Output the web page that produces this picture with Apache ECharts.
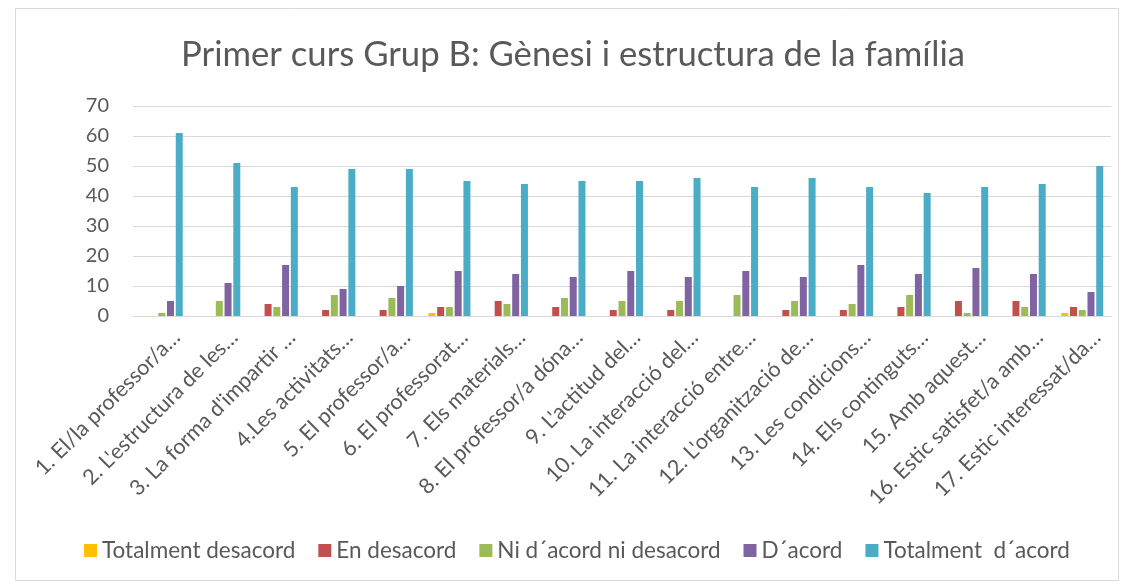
<!DOCTYPE html>
<html>
<head>
<meta charset="utf-8">
<script src="https://cdn.jsdelivr.net/npm/echarts@6/dist/echarts.min.js"></script>
<style>
  html, body { margin: 0; padding: 0; background: #fff; }
  #chart { width: 1132px; height: 584px; }
</style>
</head>
<body>
<div id="chart"></div>
<script>
// chart data
var categories = [
  "1. El/la professor/a…", "2. L'estructura de les…", "3. La forma d'impartir …",
  "4.Les activitats…", "5. El professor/a…", "6. El professorat…",
  "7. Els materials…", "8. El professor/a dóna…", "9. L'actitud del…",
  "10. La interacció del…", "11. La interacció entre…", "12. L'organització de…",
  "13. Les condicions…", "14. Els continguts…", "15. Amb aquest…",
  "16. Estic satisfet/a amb…", "17. Estic interessat/da…"
];
var totalDesacord = [0, 0, 0, 0, 0, 1, 0, 0, 0, 0, 0, 0, 0, 0, 0, 0, 1];
var enDesacord    = [0, 0, 4, 2, 2, 3, 5, 3, 2, 2, 0, 2, 2, 3, 5, 5, 3];
var niAcord       = [1, 5, 3, 7, 6, 3, 4, 6, 5, 5, 7, 5, 4, 7, 1, 3, 2];
var dAcord        = [5, 11, 17, 9, 10, 15, 14, 13, 15, 13, 15, 13, 17, 14, 16, 14, 8];
var totalAcord    = [61, 51, 43, 49, 49, 45, 44, 45, 45, 46, 43, 46, 43, 41, 43, 44, 50];
var yTicks = [0, 10, 20, 30, 40, 50, 60, 70];

var textColor = '#595959';
var font = 'Lato';

var chart = echarts.init(document.getElementById('chart'));

function bar(name, data, color) {
  return {
    name: name,
    type: 'bar',
    data: data,
    barWidth: 7,
    barGap: '25%',
    itemStyle: { color: color },
    emphasis: { disabled: true }
  };
}

var option = {
  animation: false,
  textStyle: { fontFamily: font },
  title: {
    text: 'Primer curs Grup B: Gènesi i estructura de la família',
    left: 176,
    top: 32,
    textStyle: { color: textColor, fontSize: 34.7, fontWeight: 'normal', fontFamily: font }
  },
  graphic: [{
    type: 'rect',
    shape: { x: 15.5, y: 8.5, width: 1103, height: 572 },
    style: { fill: 'none', stroke: '#d9d9d9', lineWidth: 1 },
    silent: true
  }],
  legend: {
    bottom: 17,
    left: 79,
    itemWidth: 13,
    itemHeight: 13,
    itemGap: 23,
    icon: 'rect',
    textStyle: { color: textColor, fontSize: 22.5, fontFamily: font },
    data: ['Totalment desacord', 'En desacord', 'Ni d\u00b4acord ni desacord', 'D\u00b4acord', 'Totalment  d\u00b4acord']
  },
  grid: { left: 133, right: 21, top: 106, bottom: 268 },
  xAxis: {
    type: 'category',
    data: categories,
    axisTick: { show: false },
    axisLine: { lineStyle: { color: '#d9d9d9', width: 1 } },
    axisLabel: {
      rotate: 45,
      interval: 0,
      margin: 3,
      verticalAlign: 'top',
      padding: [10, 0, 0, 0],
      color: textColor,
      fontSize: 21.5,
      fontFamily: font
    }
  },
  yAxis: {
    type: 'value',
    min: yTicks[0],
    max: yTicks[yTicks.length - 1],
    interval: 10,
    axisLine: { show: false },
    axisTick: { show: false },
    splitLine: { lineStyle: { color: '#d9d9d9', width: 1 } },
    axisLabel: { color: textColor, fontSize: 20, fontFamily: font, margin: 24 }
  },
  series: [
    bar('Totalment desacord', totalDesacord, '#FFC000'),
    bar('En desacord', enDesacord, '#C0504D'),
    bar('Ni d\u00b4acord ni desacord', niAcord, '#9BBB59'),
    bar('D\u00b4acord', dAcord, '#8064A2'),
    bar('Totalment  d\u00b4acord', totalAcord, '#4BACC6')
  ]
};

chart.setOption(option);
</script>
</body>
</html>
